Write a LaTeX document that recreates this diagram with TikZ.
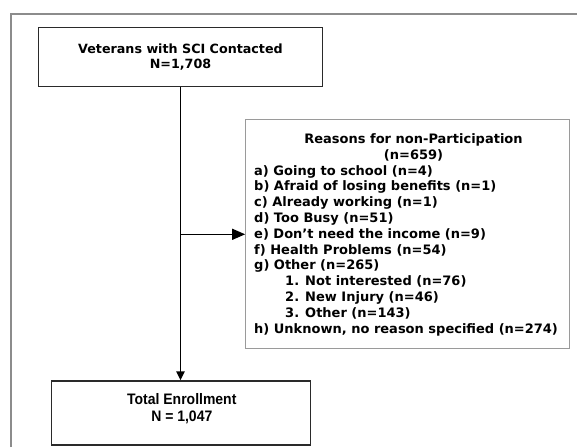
\documentclass[tikz,border=0pt]{standalone}
\usepackage{fontspec}
\setmainfont{DejaVu Sans}
\newfontfamily\arialfont[FakeStretch=0.92]{Liberation Sans}
\usetikzlibrary{arrows.meta}
\definecolor{framegray}{HTML}{8C8C8C}
\definecolor{boxgray}{HTML}{9A9A9A}
\definecolor{darkline}{HTML}{2A2A2A}
\tikzset{
  vfont/.style={font=\fontsize{12.7}{15}\selectfont\bfseries},
  lfont/.style={font=\fontsize{13}{15}\selectfont\bfseries},
  mainbox/.style={draw=darkline, line width=1.4pt, inner sep=0pt},
  reasonbox/.style={draw=boxgray, line width=1.1pt, inner sep=0pt},
  listline/.style={lfont, anchor=base west, inner sep=0pt},
  titleline/.style={lfont, anchor=base, inner sep=0pt},
  enrollfont/.style={font=\arialfont\fontsize{15.2}{16.5}\selectfont\bfseries, align=center, inner sep=0pt},
  flow/.style={line width=1.4pt, draw=black},
}
\begin{document}
\begin{tikzpicture}[x=1pt, y=-1pt]
\useasboundingbox (0,0) rectangle (577,447);
% outer frame (cropped at right and bottom)
\draw[framegray, line width=1.2pt] (11,447) -- (11,14) -- (577,14);
% top box
\node[mainbox, minimum width=284.4pt, minimum height=59pt, vfont, align=center] (contacted) at (180.5,57.2) {Veterans with SCI Contacted\\N=1,708};
% bottom box
\node[mainbox, minimum width=259pt, minimum height=64pt] (enroll) at (181.2,413) {};
\node[enrollfont] (enrolltext) at (181.8,408.5) {Total Enrollment\\N = 1,047};
% reasons box
\node[reasonbox, minimum width=323.6pt, minimum height=229.3pt] (reasons) at (407.5,233.7) {};
\node[titleline] (t1) at (413.5,143.5) {Reasons for non-Participation};
\node[titleline] (t2) at (413.5,159.3) {(n=659)};
\node[listline] (la) at (254,175.1) {a) Going to school (n=4)};
\node[listline] (lb) at (254,190.9) {b) Afraid of losing benefits (n=1)};
\node[listline] (lc) at (254,206.7) {c) Already working (n=1)};
\node[listline] (ld) at (254,222.5) {d) Too Busy (n=51)};
\node[listline] (le) at (254,238.3) {e) Don’t need the income (n=9)};
\node[listline] (lf) at (254,254.1) {f) Health Problems (n=54)};
\node[listline] (lg) at (254,269.9) {g) Other (n=265)};
\node[listline] (lg1) at (285,285.7) {1. Not interested (n=76)};
\node[listline] (lg2) at (285,301.5) {2. New Injury (n=46)};
\node[listline] (lg3) at (285,317.3) {3. Other (n=143)};
\node[listline] (lh) at (254,333.1) {h) Unknown, no reason specified (n=274)};
% connectors
\coordinate (branch) at (contacted.south |- 0,234.3);
\draw[flow, -{Triangle[length=9pt,width=8.5pt]}] (contacted.south) -- (enroll.north -| contacted.south);
\draw[flow, -{Triangle[length=13pt,width=11pt]}] (branch) -- (reasons.west |- branch);
\end{tikzpicture}
\end{document}
